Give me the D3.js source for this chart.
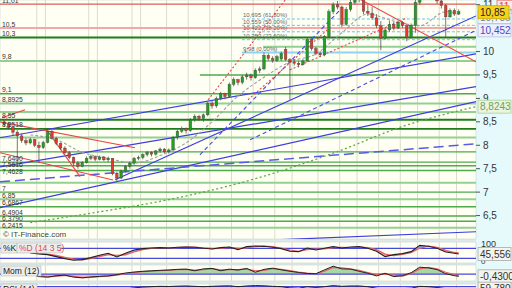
<!DOCTYPE html>
<html>
<head>
<meta charset="utf-8">
<script src="https://d3js.org/d3.v7.min.js"></script>
<style>
  body { margin: 0; background: #fff; }
  svg { display: block; font-family: "Liberation Sans", Arial, sans-serif; }
</style>
</head>
<body>
<svg id="chart" width="512" height="288"></svg>
<script>
// ---- data ----
// daily candles: [open, high, low, close]
var candles = [
  [8.50,8.55,8.40,8.45],[8.45,8.50,8.33,8.38],[8.38,8.42,8.22,8.28],[8.28,8.32,7.65,8.20],
  [8.20,8.25,8.05,8.10],[8.10,8.15,8.00,8.05],[8.05,8.16,8.02,8.12],[8.12,8.14,7.96,8.00],
  [8.00,8.08,7.62,7.95],[7.95,8.10,7.92,8.06],[8.06,8.34,8.04,8.30],[8.30,8.32,8.12,8.15],
  [8.15,8.18,8.00,8.04],[8.04,8.06,7.90,7.94],[7.94,7.98,7.80,7.84],[7.84,7.88,7.70,7.74],
  [7.74,7.76,7.56,7.62],[7.62,7.66,7.50,7.55],[7.55,7.66,7.53,7.63],[7.63,7.76,7.61,7.72],
  [7.72,7.80,7.68,7.76],[7.76,7.78,7.66,7.70],[7.70,7.78,7.68,7.75],[7.75,7.77,7.66,7.69],
  [7.69,7.76,7.64,7.72],[7.72,7.73,7.36,7.40],[7.40,7.44,7.24,7.30],[7.30,7.48,7.28,7.45],
  [7.45,7.58,7.42,7.55],[7.55,7.65,7.50,7.62],[7.62,7.75,7.58,7.72],[7.72,7.78,7.68,7.74],
  [7.74,7.83,7.70,7.80],[7.80,7.88,7.76,7.85],[7.85,7.87,7.76,7.81],[7.81,7.90,7.78,7.88],
  [7.88,7.95,7.84,7.92],[7.92,7.94,7.83,7.86],[7.86,7.93,7.82,7.90],[7.90,8.20,7.88,8.16],
  [8.16,8.33,8.12,8.30],[8.30,8.40,8.26,8.36],[8.36,8.38,8.25,8.31],[8.31,8.58,8.29,8.55],
  [8.55,8.66,8.50,8.62],[8.62,8.65,8.52,8.57],[8.57,8.68,8.50,8.65],[8.65,8.93,8.62,8.90],
  [8.90,8.95,8.78,8.84],[8.84,9.04,8.80,9.00],[9.00,9.14,8.96,9.10],[9.10,9.12,8.98,9.04],
  [9.04,9.34,9.02,9.30],[9.30,9.45,9.26,9.40],[9.40,9.42,9.28,9.34],[9.34,9.50,9.30,9.46],
  [9.46,9.55,9.40,9.50],[9.50,9.53,9.38,9.44],[9.44,9.64,9.42,9.60],[9.60,9.68,9.54,9.63],
  [9.63,9.98,9.60,9.92],[9.92,9.96,9.80,9.85],[9.85,9.90,9.76,9.81],[9.81,9.93,9.78,9.89],
  [9.84,10.00,9.80,9.96],[10.05,10.10,9.80,9.83],[9.83,9.86,8.97,9.78],[9.78,9.84,9.70,9.75],
  [9.75,9.80,9.66,9.72],[9.72,9.84,9.70,9.80],[9.80,10.30,9.78,10.26],[10.26,10.30,10.02,10.06],
  [10.06,10.10,9.92,9.96],[9.96,10.00,9.88,9.93],[9.93,10.35,9.90,10.32],[10.32,10.90,10.30,10.85],
  [10.85,11.05,10.80,11.00],[11.00,11.08,10.90,10.95],[10.95,10.98,10.52,10.58],[10.58,10.95,10.55,10.90],
  [10.90,11.10,10.85,11.05],[11.05,11.25,11.00,11.20],[11.20,11.25,11.05,11.12],[11.12,11.15,10.80,10.86],
  [10.86,11.00,10.76,10.82],[10.82,10.95,10.68,10.72],[10.72,10.80,10.50,10.55],[10.55,10.65,10.03,10.28],
  [10.28,10.50,10.25,10.46],[10.46,10.66,10.42,10.58],[10.58,10.64,10.45,10.50],[10.50,10.66,10.48,10.62],
  [10.62,10.65,10.50,10.55],[10.55,10.56,10.22,10.30],[10.30,10.60,10.28,10.56],[10.56,11.10,10.40,11.05],
  [11.05,11.30,11.00,11.22],[11.22,11.40,11.15,11.32],[11.32,11.38,11.18,11.25],[11.25,11.30,11.12,11.18],
  [11.18,11.22,11.02,11.08],[11.08,11.12,10.92,10.98],[10.98,11.02,10.30,10.74],[10.74,10.92,10.72,10.88],
  [10.88,10.92,10.76,10.80],[10.80,10.90,10.78,10.85]
];

// week separators (candle index)
var gridIdx = [7.5, 9.5, 19.5, 21.5, 29.5, 31.5, 37.5, 42.5, 47.5, 52.5, 57.5, 62.5, 66.5,
               72.5, 77.5, 81.5, 86.5, 91.5, 95.5, 100.5, 104.5];

// horizontal support / resistance levels
var levelValues = [11.01, 10.5, 10.3, 10.1, 9.8, 9.5, 9.1, 8.8925, 8.71, 8.545, 8.3518, 8.166,
                   7.86, 7.64, 7.5616, 7.4628, 7.2, 7.0, 6.85, 6.6867, 6.4904, 6.379, 6.2415];
var levelKinds  = ["red", "pink", "dark", "light", "light", "mid", "mid", "light", "light", "dark", "dark", "light",
                   "mid", "mid", "mid", "mid", "light", "mid", "light", "mid", "mid", "mid", "light"];
var levelStart  = [-1, -1, -1, 59.8, -1, 45.2, -1, -1, -1, -1, -1, -1,
                   -1, -1, -1, -1, -1, -1, -1, -1, -1, -1, -1];
var levelLabels = ["11,01", "10,5", "10,3", "", "9,8", "", "9,1", "8,8925", "", "8,55", "8,3518", "",
                   "", "7,6400", "7,5616", "7,4628", "", "7", "6,85", "6,6867", "6,4904", "6,3790", "6,2415"];

// fibonacci retracement
var fibValues = [10.695, 10.559, 10.422, 10.253, 9.98];
var fibLabels = ["10,695 (61,80%)", "10,559 (50,00%)", "10,422 (38,20%)", "10,253 (23,60%)", "9,98 (0,00%)"];
var fibStart = 54.9;

// trend lines: [[index, price], [index, price]]
var blueLines = [
  [[-1, 8.16], [109, 9.95]],
  [[-1, 7.54], [109, 9.25]],
  [[-1, 6.67], [109, 8.93]],
  [[56.8, 5.96], [109, 6.155]],
  [[25.6, 7.264], [109, 10.76]]
];
var blueLongDash = [[[-1, 7.22], [109, 8.03]]];
var blueDash = [
  [[56.8, 8.117], [109, 10.452]],
  [[45.2, 7.797], [77.6, 10.89]]
];
var redLines = [
  [[80.3, 11.21], [109, 9.78]],
  [[-0.54, 8.586], [4.78, 8.757]],
  [[-1, 8.50], [30.2, 7.947]],
  [[10.1, 8.29], [17.5, 7.33]],
  [[-1, 7.84], [25.1, 7.26]]
];
var redDash = [
  [[47.1, 8.97], [64.9, 11.10]],
  [[56.3, 8.97], [74.6, 10.46]],
  [[66, 9.61], [93.1, 10.72]]
];

// moving averages: [index, price]
var maShort = [[6, 8.22], [12, 8.12], [18, 7.85], [24, 7.72], [30, 7.62], [36, 7.78], [42, 8.05],
               [48, 8.50], [54, 9.05], [60, 9.45], [66, 9.78], [72, 9.95], [78, 10.40], [84, 10.80],
               [90, 10.65], [96, 10.55], [102, 10.85], [105, 10.80]];
var maLong  = [[6, 6.35], [22, 6.58], [38, 6.84], [57, 7.26], [78, 7.90], [91, 8.37], [109, 8.824]];

// stochastic / momentum / rsi (every 2nd candle from index 6)
var stIdx = [6, 8, 10, 12, 14, 16, 18, 20, 22, 24, 26, 28, 30, 32, 34, 36, 38, 40, 42, 44, 46, 48, 50,
             52, 54, 56, 58, 60, 62, 64, 66, 68, 70, 72, 74, 76, 78, 80, 82, 84, 86, 88, 90, 92, 94, 96,
             98, 100, 102, 104, 105];
var kValues = [52, 46, 42, 30, 18, 8, 12, 24, 38, 50, 28, 50, 70, 78, 82, 84, 82, 86, 88, 86, 80, 76, 84,
               88, 72, 90, 94, 92, 86, 78, 62, 60, 82, 70, 80, 90, 82, 88, 90, 80, 62, 30, 42, 48, 60, 98,
               92, 80, 58, 50, 45.556];
var dValues = [55, 50, 45, 38, 26, 15, 10, 18, 30, 42, 38, 40, 58, 72, 80, 82, 83, 84, 87, 87, 83, 78, 80,
               86, 80, 82, 90, 93, 90, 82, 70, 62, 72, 76, 76, 84, 86, 85, 88, 85, 72, 45, 36, 44, 54, 80,
               94, 86, 68, 55, 52];
var momValues = [0.1, -0.5, -0.6, -0.3, -0.2, -0.6, -0.75, -0.55, -0.45, -0.35, -0.1, 0.25, 0.45, 0.6,
                 0.7, 0.8, 0.85, 1.0, 1.05, 0.7, 1.1, 1.2, 0.7, 1.05, 0.85, 1.2, 0.4, 1.0, 1.25, 0.9, 0.6,
                 0.35, 0.15, 0.1, 0.9, 1.65, 1.1, 1.05, 0.6, 0.2, -0.35, 0.2, -0.5, -0.3, 0.3, 1.45, 1.3,
                 0.95, 0.1, -0.3, -0.43];
var momSignal = [0.2, -0.3, -0.55, -0.45, -0.25, -0.45, -0.7, -0.65, -0.5, -0.4, -0.2, 0.1, 0.35, 0.55,
                 0.65, 0.75, 0.85, 0.95, 1.0, 0.85, 0.95, 1.15, 0.9, 0.95, 0.95, 1.05, 0.7, 0.8, 1.15, 1.0,
                 0.75, 0.45, 0.25, 0.1, 0.6, 1.4, 1.3, 1.1, 0.8, 0.35, -0.1, 0.0, -0.2, -0.4, 0.1, 1.1,
                 1.4, 1.1, 0.4, -0.1, -0.35];
var rsiValues = [62, 58, 55, 50, 48, 45, 48, 55, 58, 60, 52, 58, 64, 68, 70, 72, 71, 73, 74, 72, 70, 72, 74,
                 75, 70, 74, 76, 75, 72, 70, 64, 62, 70, 66, 70, 76, 72, 74, 74, 70, 62, 55, 58, 60, 62, 72,
                 70, 66, 60, 60, 59.78];

var rightTicks = [6.5, 7, 7.5, 8, 8.5, 9, 9.5, 10, 11];

// ---- layout ----
var svg = d3.select("#chart");
var plotR = 476;
var fmt = function (v) { return String(v).replace(".", ","); };

var x = d3.scaleLinear().domain([-1, 109]).range([0, plotR]);
var y = d3.scaleLinear().domain([6.0, 11.1]).range([239, 0]);
var kY = d3.scaleLinear().domain([0, 100]).range([261.6, 245]);
var momY = d3.scaleLinear().domain([-1.4, 1.9]).range([281, 265]);
var rsiY = d3.scaleLinear().domain([0, 100]).range([300, 281]);

var panels = [
  { id: "main", top: 0, bottom: 239 },
  { id: "sto", top: 242, bottom: 263 },
  { id: "mom", top: 265, bottom: 281 },
  { id: "rsi", top: 284, bottom: 300 }
];

// backgrounds
svg.append("rect").attr("width", 512).attr("height", 288).attr("fill", "#dde9ec");
svg.append("rect").attr("x", plotR).attr("width", 512 - plotR).attr("height", 288).attr("fill", "#e6fafb");

var defs = svg.append("defs");
panels.forEach(function (p) {
  defs.append("clipPath").attr("id", "clip-" + p.id)
    .append("rect").attr("x", 0).attr("y", p.top).attr("width", plotR).attr("height", p.bottom - p.top);
  svg.append("rect").attr("x", 0).attr("y", p.top).attr("width", plotR).attr("height", p.bottom - p.top)
    .attr("fill", "#fffff3").attr("stroke", "#c6d6d8").attr("stroke-width", 0.6);
  svg.append("g").selectAll("line").data(gridIdx).enter().append("line")
    .attr("x1", function (d) { return x(d); }).attr("x2", function (d) { return x(d); })
    .attr("y1", p.top).attr("y2", p.bottom)
    .attr("stroke", "#dcdccc").attr("stroke-width", 1);
});

var main = svg.append("g").attr("clip-path", "url(#clip-main)");

// horizontal levels
var levelColor = { red: "#e05a5a", pink: "#f3a9a9", dark: "#1d7d1d", light: "#93d093", mid: "#4daa4d" };
var levelWidth = { red: 1.3, pink: 2, dark: 1.8, light: 2, mid: 1.4 };
levelValues.forEach(function (v, i) {
  var k = levelKinds[i];
  main.append("line")
    .attr("x1", x(levelStart[i])).attr("x2", plotR)
    .attr("y1", y(v)).attr("y2", y(v))
    .attr("stroke", levelColor[k]).attr("stroke-width", levelWidth[k]);
});

// fibonacci
fibValues.forEach(function (v, i) {
  var last = i === fibValues.length - 1;
  main.append("line")
    .attr("x1", x(fibStart)).attr("x2", plotR)
    .attr("y1", y(v)).attr("y2", y(v))
    .attr("stroke", last ? "#8fd3f0" : "#6cc4ee")
    .attr("stroke-width", last ? 2 : 1)
    .attr("stroke-dasharray", last ? null : "3,2");
  main.append("text")
    .attr("x", x(fibStart) + 1).attr("y", y(v) - 1.5)
    .attr("font-size", 6).attr("fill", "#666")
    .text(fibLabels[i]);
});

// trend lines
function drawSegs(list, color, width, dash) {
  main.append("g").selectAll("line").data(list).enter().append("line")
    .attr("x1", function (d) { return x(d[0][0]); }).attr("y1", function (d) { return y(d[0][1]); })
    .attr("x2", function (d) { return x(d[1][0]); }).attr("y2", function (d) { return y(d[1][1]); })
    .attr("stroke", color).attr("stroke-width", width)
    .attr("stroke-dasharray", dash);
}
drawSegs(blueLines, "#3d3de0", 1.2, null);
drawSegs(blueLongDash, "#5a5ae6", 1.5, "10,5");
drawSegs(blueDash, "#4a4ae6", 1.1, "4,3");
drawSegs(redLines, "#ee4444", 1.1, null);
drawSegs(redDash, "#ee4444", 1.1, "2,2");

// moving averages
var maLine = d3.line().curve(d3.curveMonotoneX)
  .x(function (d) { return x(d[0]); }).y(function (d) { return y(d[1]); });
main.append("path").datum(maShort).attr("d", maLine)
  .attr("fill", "none").attr("stroke", "#a0a0a0").attr("stroke-width", 1.1).attr("stroke-dasharray", "3,2");
main.append("path").datum(maLong).attr("d", maLine)
  .attr("fill", "none").attr("stroke", "#5fa84a").attr("stroke-width", 1.3).attr("stroke-dasharray", "2,2.5");

// candles
var cw = 2.6;
var cg = main.append("g").selectAll("g").data(candles).enter().append("g");
cg.append("line")
  .attr("x1", function (d, i) { return x(i); }).attr("x2", function (d, i) { return x(i); })
  .attr("y1", function (d) { return y(d[1]); }).attr("y2", function (d) { return y(d[2]); })
  .attr("stroke", "#555").attr("stroke-width", 0.8);
cg.append("rect")
  .attr("x", function (d, i) { return x(i) - cw / 2; })
  .attr("y", function (d) { return y(Math.max(d[0], d[3])); })
  .attr("width", cw)
  .attr("height", function (d) { return Math.max(1, Math.abs(y(d[0]) - y(d[3]))); })
  .attr("fill", function (d) { return d[3] >= d[0] ? "#1fa01f" : "#e03a2a"; })
  .attr("stroke", "#444").attr("stroke-width", 0.4);

// level labels on the left, pushed down when they would collide
var labelPos = [];
levelValues.forEach(function (v, i) {
  if (levelLabels[i]) labelPos.push({ t: levelLabels[i], y: y(v) - 1.5 });
});
labelPos.sort(function (a, b) { return a.y - b.y; });
for (var j = 1; j < labelPos.length; j++) {
  if (labelPos[j].y < labelPos[j - 1].y + 6.5) labelPos[j].y = labelPos[j - 1].y + 6.5;
}
svg.append("g").selectAll("text").data(labelPos).enter().append("text")
  .attr("x", 2).attr("y", function (d) { return d.y; })
  .attr("font-size", 6.8).attr("fill", "#333").text(function (d) { return d.t; });
svg.append("text").attr("x", 3).attr("y", 237).attr("font-size", 8).attr("fill", "#444")
  .text("\u00a9 IT-Finance.com");

// right axis
function valueBox(yy, txt, bg, border, color, w, xx) {
  var g = svg.append("g");
  g.append("rect").attr("x", xx || plotR + 2).attr("y", yy - 6.5).attr("width", w || 33).attr("height", 13)
    .attr("fill", bg).attr("stroke", border).attr("stroke-width", 0.8);
  g.append("text").attr("x", (xx || plotR + 2) + 2).attr("y", yy + 3.5).attr("font-size", 10)
    .attr("fill", color).text(txt);
}
// the red 11,01 tag sits behind the tick labels and the last-price tag
valueBox(y(11.01) + 2.5, "11,01", "#fbe9e9", "#e07070", "#e04040", 34, 497);

var ax = svg.append("g");
rightTicks.forEach(function (t) {
  ax.append("line").attr("x1", plotR).attr("x2", plotR + 4).attr("y1", y(t)).attr("y2", y(t))
    .attr("stroke", "#555");
  ax.append("text").attr("x", plotR + 7).attr("y", y(t) + 3.5).attr("font-size", 10).attr("fill", "#333")
    .text(fmt(t));
});

valueBox(y(10.735), "10,735", "#eef6fb", "#aaccdd", "#6a8aa0");
valueBox(y(10.85) + 0.5, "10,85", "#f7d21d", "#c9a800", "#222", 31);
valueBox(y(10.452), "10,452", "#eef0fb", "#b8bce4", "#4848c8");
valueBox(y(8.8243), "8,8243", "#eaf4e2", "#a9cf99", "#6aa45a");

// ---- stochastic panel ----
var sto = svg.append("g").attr("clip-path", "url(#clip-sto)");
[20, 80].forEach(function (v) {
  sto.append("line").attr("x1", 0).attr("x2", plotR).attr("y1", kY(v)).attr("y2", kY(v))
    .attr("stroke", "#4848e0").attr("stroke-width", 1.2);
});
var kd = stIdx.map(function (d, i) { return { i: d, k: kValues[i], d: dValues[i] }; });
defs.append("clipPath").attr("id", "kAbove").append("path")
  .attr("d", d3.area().x(function (d) { return x(d.i); }).y0(242).y1(function (d) { return kY(d.d); })(kd));
defs.append("clipPath").attr("id", "kBelow").append("path")
  .attr("d", d3.area().x(function (d) { return x(d.i); }).y0(263).y1(function (d) { return kY(d.d); })(kd));
var band = d3.area().x(function (d) { return x(d.i); })
  .y0(function (d) { return kY(d.d); }).y1(function (d) { return kY(d.k); });
sto.append("path").datum(kd).attr("d", band).attr("fill", "#9c9cf0").attr("clip-path", "url(#kAbove)");
sto.append("path").datum(kd).attr("d", band).attr("fill", "#f4a8a8").attr("clip-path", "url(#kBelow)");
sto.append("path").datum(kd)
  .attr("d", d3.line().x(function (d) { return x(d.i); }).y(function (d) { return kY(d.d); }))
  .attr("fill", "none").attr("stroke", "#e86060").attr("stroke-width", 1.2);
sto.append("path").datum(kd)
  .attr("d", d3.line().x(function (d) { return x(d.i); }).y(function (d) { return kY(d.k); }))
  .attr("fill", "none").attr("stroke", "#222").attr("stroke-width", 1.1);

// ---- momentum panel ----
var mom = svg.append("g").attr("clip-path", "url(#clip-mom)");
var mm = stIdx.map(function (d, i) { return { i: d, v: momValues[i], s: momSignal[i] }; });
defs.append("clipPath").attr("id", "momUp").append("rect")
  .attr("x", 0).attr("y", 265).attr("width", plotR).attr("height", momY(0) - 265);
defs.append("clipPath").attr("id", "momDn").append("rect")
  .attr("x", 0).attr("y", momY(0)).attr("width", plotR).attr("height", 281 - momY(0));
var momArea = d3.area().x(function (d) { return x(d.i); }).y0(momY(0)).y1(function (d) { return momY(d.v); });
mom.append("path").datum(mm).attr("d", momArea).attr("fill", "#a9d6a4").attr("clip-path", "url(#momUp)");
mom.append("path").datum(mm).attr("d", momArea).attr("fill", "#f2b4b4").attr("clip-path", "url(#momDn)");
mom.append("line").attr("x1", 0).attr("x2", plotR).attr("y1", momY(0)).attr("y2", momY(0))
  .attr("stroke", "#4848e0").attr("stroke-width", 1.2);
mom.append("path").datum(mm)
  .attr("d", d3.line().x(function (d) { return x(d.i); }).y(function (d) { return momY(d.s); }))
  .attr("fill", "none").attr("stroke", "#e86060").attr("stroke-width", 1.2);
mom.append("path").datum(mm)
  .attr("d", d3.line().x(function (d) { return x(d.i); }).y(function (d) { return momY(d.v); }))
  .attr("fill", "none").attr("stroke", "#222").attr("stroke-width", 1);

// ---- rsi panel ----
var rsi = svg.append("g").attr("clip-path", "url(#clip-rsi)");
rsi.append("line").attr("x1", 0).attr("x2", plotR).attr("y1", rsiY(70)).attr("y2", rsiY(70))
  .attr("stroke", "#4848e0").attr("stroke-width", 1.2);
rsi.append("path").datum(stIdx.map(function (d, i) { return [d, rsiValues[i]]; }))
  .attr("d", d3.line().x(function (d) { return x(d[0]); }).y(function (d) { return rsiY(d[1]); }))
  .attr("fill", "none").attr("stroke", "#222").attr("stroke-width", 1);

// panel titles
function tag(xx, yy, w, txt, color) {
  svg.append("rect").attr("x", xx).attr("y", yy).attr("width", w).attr("height", 10)
    .attr("fill", "#ececec").attr("stroke", "#bbb").attr("stroke-width", 0.6);
  svg.append("text").attr("x", xx + 2).attr("y", yy + 8).attr("font-size", 8.5).attr("fill", color).text(txt);
}
tag(1, 243, 16, "%K", "#222");
tag(17, 243, 44, "%D (14 3 5)", "#e04848");
tag(1, 266, 40, "Mom (12)", "#222");
tag(1, 284, 36, "RSI (14)", "#222");

// indicator scales on the right
svg.append("text").attr("x", plotR + 5).attr("y", 247).attr("font-size", 9).attr("fill", "#333").text("100");
svg.append("text").attr("x", plotR + 5).attr("y", 264).attr("font-size", 8).attr("fill", "#333").text("0");
valueBox(kY(45.556), "45,556", "#f4f4ee", "#aaa", "#333");
valueBox(momY(-0.43), "-0,4300", "#f4f4ee", "#aaa", "#333", 35);
valueBox(rsiY(59.78), "59,780", "#f4f4ee", "#aaa", "#333");
</script>
</body>
</html>
